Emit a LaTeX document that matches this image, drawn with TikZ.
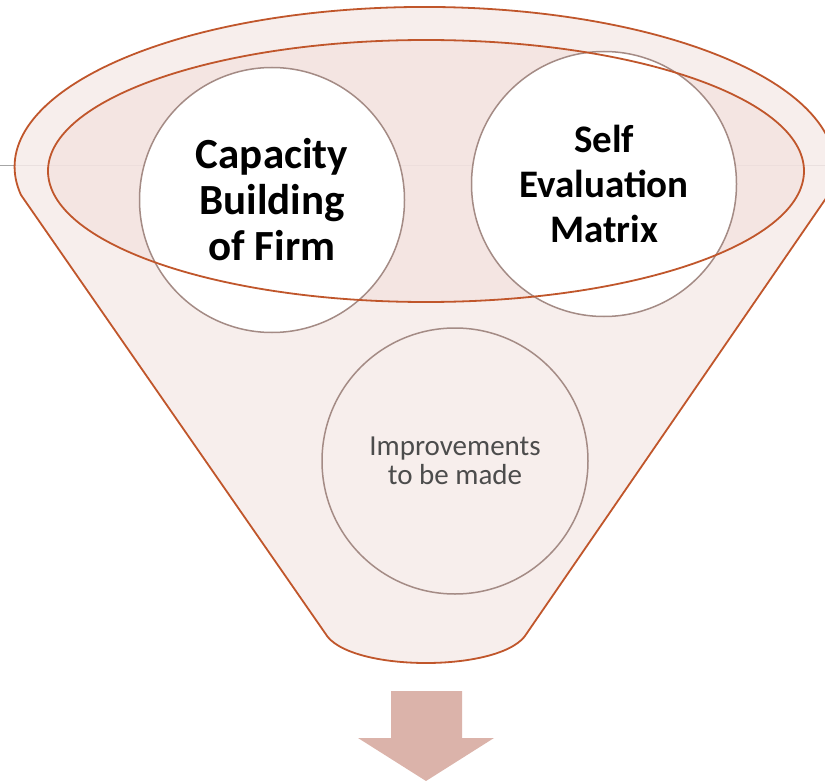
\documentclass[tikz,border=0pt]{standalone}
\usepackage{fontspec}
\setmainfont{Carlito}
\definecolor{rim}{HTML}{C0562B}
\definecolor{funnelfill}{HTML}{F6EBE9}
\definecolor{mouthfill}{HTML}{F1DEDB}
\definecolor{ringline}{HTML}{A48B85}
\definecolor{arrowfill}{HTML}{DBB3AA}
\definecolor{guide}{HTML}{A6A6A6}
\begin{document}
\begin{tikzpicture}[x=1pt,y=-1pt,
  funnelbody/.style={fill=funnelfill,draw=rim,line width=1.8pt,line join=round},
  mouth/.style={draw=rim,line width=1.8pt},
  whitecircle/.style={circle,draw=ringline,line width=1.5pt,fill=white,
    minimum size=265pt,inner sep=0pt,align=center,text=black},
  clearcircle/.style={circle,draw=ringline,line width=1.5pt,
    minimum size=266pt,inner sep=0pt,align=center,text=black!70},
  bigtext/.style={font=\fontsize{43}{46}\selectfont\bfseries},
  midtext/.style={font=\fontsize{39}{45}\selectfont\bfseries},
  smalltext/.style={font=\fontsize{29}{29}\selectfont},
  downarrow/.style={fill=arrowfill,draw=none}]
\useasboundingbox (0,0) rectangle (825,781);

% horizontal guide line behind the funnel
\coordinate (gl) at (0,166);
\coordinate (gr) at (825,166);
\draw[guide,line width=1pt] (gl) -- (gr);

% funnel body: upper half of the rim ellipse, sloping sides, rounded spout
\path[funnelbody,fill opacity=0.85] (21,195)
  arc[start angle=169.9,end angle=370.1,x radius=410,y radius=160]
  -- (527,633) .. controls (505,673) and (347,673) .. (325,633) -- cycle;

% shaded mouth of the funnel
\fill[mouthfill,fill opacity=0.55] (426,171) ellipse[x radius=378,y radius=131];

% circles
\node[whitecircle,bigtext] (cap) at (272,200) {Capacity\\Building\\of Firm};
\node[whitecircle,midtext] (sem) at (604,184) {Self\\Evaluation\\Matrix};
\node[clearcircle,smalltext] (imp) at (455,461) {Improvements\\to be made};

% mouth outline on top of the circles
\draw[mouth] (426,171) ellipse[x radius=378,y radius=131];

% output arrow below the funnel
\path[downarrow] (391,691) -- (462,691) -- (462,738) -- (494,738)
  -- (426,781) -- (358,738) -- (391,738) -- cycle;
\end{tikzpicture}
\end{document}
